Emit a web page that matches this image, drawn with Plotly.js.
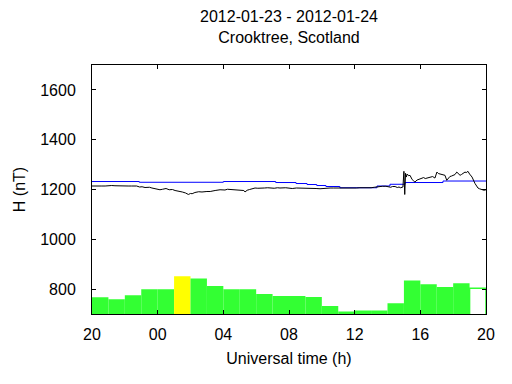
<!DOCTYPE html>
<html>
<head>
<meta charset="utf-8">
<script src="https://cdn.plot.ly/plotly-3.0.1.min.js"></script>
<style>html,body{margin:0;padding:0;background:#fff;}#chart{width:512px;height:384px;}</style>
</head>
<body>
<div id="chart"></div>
<script>
// Start of the plotted day (UTC)
const startTime = Date.UTC(2012, 0, 23, 20, 0, 0);

// Hourly activity bars (hours after 20:00, value on the H axis scale)
const barHours = [0.5,1.5,2.5,3.5,4.5,5.5,6.5,7.5,8.5,9.5,10.5,11.5,12.5,13.5,14.5,15.5,16.5,17.5,18.5,19.5,20.5,21.5,22.5,23.5];
const barValues = [767,759,775,799,799,852,843,812,799,799,780,772,772,768,732,710,714,714,743,835,819,808,823,803];
const barColors = ['#33ff33','#33ff33','#33ff33','#33ff33','#33ff33','#ffff00','#33ff33','#33ff33','#33ff33','#33ff33','#33ff33','#33ff33','#33ff33','#33ff33','#33ff33','#33ff33','#33ff33','#33ff33','#33ff33','#33ff33','#33ff33','#33ff33','#33ff33','#ffffff'];

// Measured H component (hours after 20:00, nT)
const hHours = [0,0.2,0.4,0.6,0.8,1.0,1.2,1.4,1.6,1.8,2.0,2.2,2.4,2.72,2.9,3.05,3.23,3.5,3.65,3.8,4.0,4.14,4.3,4.51,4.7,4.9,5.06,5.3,5.5,5.7,5.87,6.0,6.1,6.27,6.5,6.7,6.88,7.0,7.2,7.35,7.5,7.8,8.1,8.25,8.4,8.71,9.0,9.25,9.32,9.45,9.6,9.93,10.1,10.3,10.5,10.7,10.9,11.1,11.3,11.45,11.8,12.0,12.2,12.45,12.67,13.0,13.2,13.4,13.65,13.89,14.1,14.3,14.5,14.7,15.11,15.3,15.5,15.7,15.9,16.1,16.32,16.6,16.8,17.0,17.2,17.4,17.54,17.7,17.9,18.05,18.2,18.3,18.46,18.6,18.7,18.8,18.94,19.0,19.03,19.05,19.1,19.15,19.2,19.3,19.37,19.45,19.5,19.6,19.67,19.8,19.9,19.98,20.1,20.2,20.3,20.4,20.5,20.59,20.75,20.89,20.95,21.01,21.1,21.2,21.35,21.5,21.61,21.7,21.8,21.9,22.0,22.11,22.22,22.3,22.35,22.42,22.5,22.6,22.72,22.8,22.9,23.0,23.15,23.33,23.51,23.6,23.7,23.88,24.0];
const hValues = [1214,1215,1215,1214,1214,1216,1216,1215,1214,1215,1215,1214,1214,1214,1210,1211,1208,1209,1206,1203,1201,1199,1201,1204,1199,1200,1196,1194,1190,1186,1180,1184,1183,1188,1191,1190,1193,1192,1192,1195,1196,1199,1198,1201,1200,1198,1199,1196,1190,1197,1200,1206,1205,1204,1206,1207,1205,1205,1207,1206,1207,1205,1204,1206,1206,1205,1207,1207,1204,1203,1205,1204,1206,1206,1206,1204,1203,1206,1205,1206,1207,1206,1208,1207,1209,1211,1214,1213,1213,1210,1209,1212,1212,1208,1210,1207,1210,1273,1220,1180,1265,1250,1262,1255,1257,1245,1240,1234,1230,1238,1241,1244,1246,1248,1244,1246,1249,1250,1252,1246,1260,1270,1264,1262,1258,1257,1237,1246,1252,1254,1256,1260,1270,1264,1262,1257,1260,1266,1270,1268,1273,1262,1250,1224,1206,1203,1201,1197,1199];

// Quiet-day baseline (hours after 20:00, nT), stepped
const baseHours = [0,2.88,8.0,11.19,12.43,13.1,13.69,14.25,15.1,17.36,18.15,19.07,21.38,24];
const baseValues = [1232,1229,1232,1228,1224,1220,1216,1212,1207,1214,1221,1228,1234,1234];

const toDate = h => new Date(startTime + h * 3600000);

const barTrace = {
  type: 'bar',
  x: barHours.map(toDate),
  y: barValues,
  width: 3600000,
  marker: {
    color: barColors,
    line: { color: '#33ff33', width: barColors.map(c => c === '#ffffff' ? 1.5 : 0) }
  },
  hoverinfo: 'skip'
};
const baseTrace = {
  type: 'scatter', mode: 'lines',
  x: baseHours.map(toDate), y: baseValues,
  line: { color: '#0000ff', width: 1, shape: 'hv' }
};
const hTrace = {
  type: 'scatter', mode: 'lines',
  x: hHours.map(toDate), y: hValues,
  line: { color: '#000000', width: 1 }
};

const font = { family: 'Liberation Sans, Arial, sans-serif', size: 16, color: '#000' };

const layout = {
  width: 512, height: 384,
  margin: { l: 92, r: 26, t: 65, b: 70, pad: 0 },
  paper_bgcolor: '#fff', plot_bgcolor: '#fff',
  showlegend: false,
  bargap: 0,
  font: font,
  title: {
    text: '2012-01-23 - 2012-01-24<br>Crooktree, Scotland',
    font: font,
    xref: 'paper', x: 0.5, xanchor: 'center',
    yref: 'container', y: 0.942, yanchor: 'middle'
  },
  xaxis: {
    type: 'date',
    range: [toDate(0), toDate(24)],
    tick0: toDate(0), dtick: 4 * 3600000,
    tickformat: '%H',
    ticks: 'inside', ticklen: 4, tickcolor: '#000', tickwidth: 1,
    showline: true, linecolor: '#000', linewidth: 1, mirror: 'ticks',
    showgrid: false, zeroline: false,
    ticklabelstandoff: 6,
    title: { text: 'Universal time (h)', font: font, standoff: 10 }
  },
  yaxis: {
    range: [700, 1700],
    tick0: 800, dtick: 200,
    ticks: 'inside', ticklen: 4, tickcolor: '#000', tickwidth: 1,
    showline: true, linecolor: '#000', linewidth: 1, mirror: 'ticks',
    showgrid: false, zeroline: false,
    ticklabelstandoff: 12,
    title: { text: 'H (nT)', font: font, standoff: 10 }
  }
};

Plotly.newPlot('chart', [barTrace, baseTrace, hTrace], layout, { displayModeBar: false, staticPlot: true });
</script>
</body>
</html>
